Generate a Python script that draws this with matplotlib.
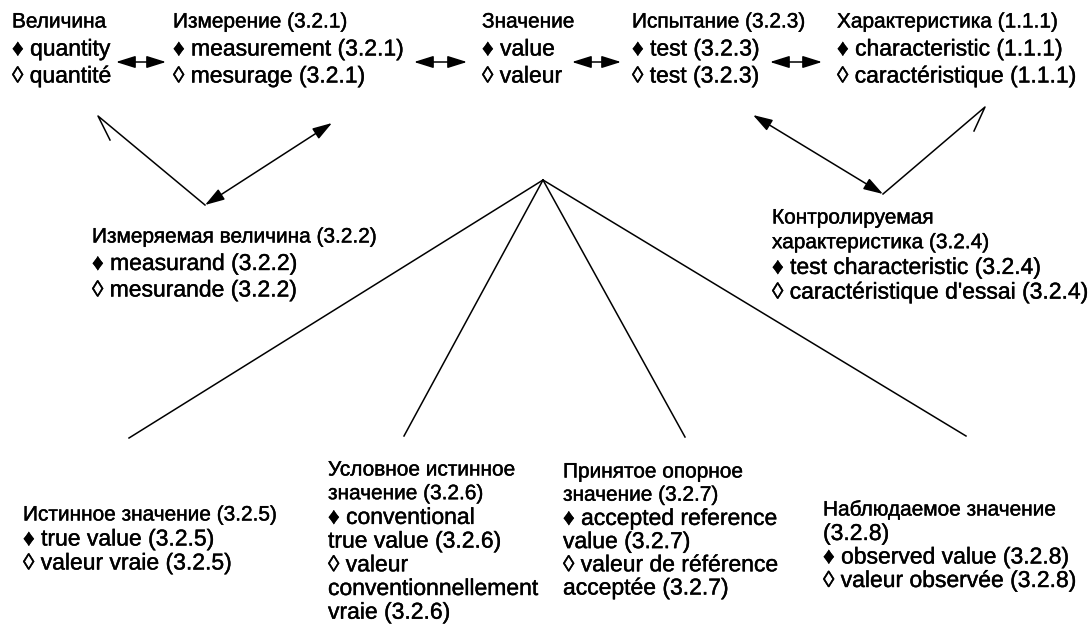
import matplotlib
matplotlib.use("Agg")
import matplotlib.pyplot as plt
import matplotlib.patheffects as pe

plt.rcParams['font.family'] = ['Liberation Sans', 'DejaVu Sans']

# node texts, one list of lines per node
top_labels = [
    ["Величина", "♦ quantity", "◊ quantité"],
    ["Измерение (3.2.1)", "♦ measurement (3.2.1)", "◊ mesurage (3.2.1)"],
    ["Значение", "♦ value", "◊ valeur"],
    ["Испытание (3.2.3)", "♦ test (3.2.3)", "◊ test (3.2.3)"],
    ["Характеристика (1.1.1)", "♦ characteristic (1.1.1)", "◊ caractéristique (1.1.1)"],
]
mid_labels = [
    ["Измеряемая величина (3.2.2)", "♦ measurand (3.2.2)", "◊ mesurande (3.2.2)"],
    ["Контролируемая", "характеристика (3.2.4)", "♦ test characteristic (3.2.4)",
     "◊ caractéristique d'essai (3.2.4)"],
]
bottom_labels = [
    ["Истинное значение (3.2.5)", "♦ true value (3.2.5)", "◊ valeur vraie (3.2.5)"],
    ["Условное истинное", "значение (3.2.6)", "♦ conventional", "true value (3.2.6)",
     "◊ valeur", "conventionnellement", "vraie (3.2.6)"],
    ["Принятое опорное", "значение (3.2.7)", "♦ accepted reference", "value (3.2.7)",
     "◊ valeur de référence", "acceptée (3.2.7)"],
    ["Наблюдаемое значение", "(3.2.8)", "♦ observed value (3.2.8)", "◊ valeur observée (3.2.8)"],
]

# layout in pixels (origin top-left): x, first line centre, line pitch
top_blocks = [(12, 22, 27), (173, 22, 27), (482, 22, 27), (632, 22, 27), (837, 22, 27)]
mid_blocks = [(92, 237, 26.5), (772, 218, 24.7)]
bottom_blocks = [(23, 515, 24), (328, 470, 23.7), (563, 472, 23.2), (823, 510, 23.5)]

top_arrows = [(116, 166), (414, 467), (572, 621), (770, 822)]
arrow_y = 62
left_v = [(110, 140), (98, 116), (205, 205), (332, 123)]
right_v = [(753, 115), (883, 194), (985, 107), (974, 131)]
fan_origin = (543, 180)
fan_ends = [(129, 438), (404, 436), (685, 437), (966, 436)]

fig = plt.figure(figsize=(10.92, 6.41), dpi=100)
ax = fig.add_axes([0, 0, 1, 1])
ax.set_xlim(0, 1092)
ax.set_ylim(641, 0)
ax.axis('off')

heavy = [pe.withStroke(linewidth=0.3, foreground='black')]


def is_cyr(s):
    return any('\u0400' <= ch <= '\u04ff' for ch in s)


def draw_block(x, y0, pitch, lines):
    for i, line in enumerate(lines):
        size = 15 if is_cyr(line) else 16.5
        ax.text(x, y0 + i * pitch, line, fontsize=size, va='center', ha='left',
                path_effects=heavy)


for (x, y0, p), lines in zip(top_blocks, top_labels):
    draw_block(x, y0, p, lines)
for (x, y0, p), lines in zip(mid_blocks, mid_labels):
    draw_block(x, y0, p, lines)
for (x, y0, p), lines in zip(bottom_blocks, bottom_labels):
    draw_block(x, y0, p, lines)

kw = dict(arrowstyle='<|-|>,head_length=0.7,head_width=0.22', color='k', lw=1.1,
          mutation_scale=17, shrinkA=0, shrinkB=0)
for x1, x2 in top_arrows:
    ax.annotate('', xy=(x2, arrow_y), xytext=(x1, arrow_y), arrowprops=kw)

ax.plot(*zip(*left_v[:3]), color='k', lw=1.1)
ax.annotate('', xy=left_v[3], xytext=left_v[2], arrowprops=kw)
ax.annotate('', xy=right_v[1], xytext=right_v[0], arrowprops=kw)
ax.plot(*zip(*right_v[1:]), color='k', lw=1.1)

for ex, ey in fan_ends:
    ax.plot([fan_origin[0], ex], [fan_origin[1], ey], color='k', lw=1.1)

fig.savefig('out.png', dpi=100, facecolor='white')
